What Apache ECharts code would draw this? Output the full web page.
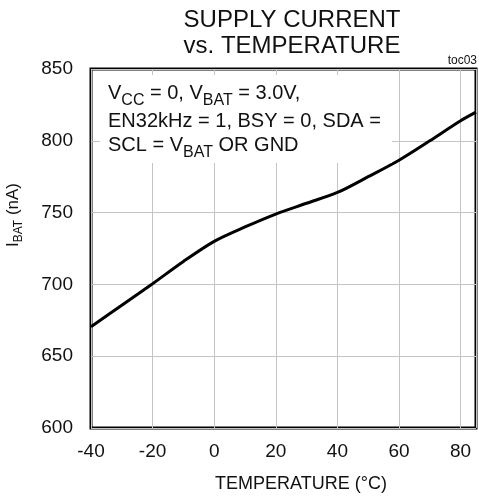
<!DOCTYPE html>
<html>
<head>
<meta charset="utf-8">
<script src="https://cdn.jsdelivr.net/npm/echarts@6/dist/echarts.min.js"></script>
<style>
  html, body { margin: 0; padding: 0; background: #fff; }
  #chart { width: 479px; height: 499px; }
</style>
</head>
<body>
<div id="chart"></div>
<script>
// temperature (°C) and supply current I_BAT (nA)
const temps = [-40, -30, -20, -10, 0, 10, 20, 30, 40, 50, 60, 70, 80, 85];
const ibat = [670.5, 685.5, 700.5, 716, 730, 740, 749, 756.5, 764, 775, 786.5, 800, 814, 820];
const xTicks = [-40, -20, 0, 20, 40, 60, 80];
const yTicks = [600, 650, 700, 750, 800, 850];

const font = '"Liberation Sans", Arial, Helvetica, sans-serif';
const chart = echarts.init(document.getElementById('chart'));

const main = { fontSize: 20, fontFamily: font, fill: '#111', verticalAlign: 'top' };
const sub = { fontSize: 16, fontFamily: font, fill: '#111', padding: [10, 0, 0, 0], verticalAlign: 'bottom' };

chart.setOption({
  animation: false,
  grid: {
    left: 91, right: 2, top: 69, bottom: 71,
    show: true, borderColor: '#000', borderWidth: 3, backgroundColor: 'transparent'
  },
  xAxis: {
    type: 'value',
    min: xTicks[0], max: 85, interval: 20,
    axisLine: { show: false },
    axisTick: { show: false },
    axisLabel: {
      margin: 14, fontSize: 19, color: '#111', fontFamily: font,
      formatter: v => (xTicks.indexOf(v) >= 0 ? String(v) : '')
    },
    splitLine: { lineStyle: { color: '#c4c4c4', width: 1 } }
  },
  yAxis: {
    type: 'value',
    min: yTicks[0], max: yTicks[yTicks.length - 1], interval: 50,
    axisLine: { show: false },
    axisTick: { show: false },
    axisLabel: { margin: 18, fontSize: 19, color: '#111', fontFamily: font },
    splitLine: { lineStyle: { color: '#c4c4c4', width: 1 } }
  },
  series: [{
    type: 'line',
    data: temps.map((t, i) => [t, ibat[i]]),
    smooth: 0.3,
    showSymbol: false,
    lineStyle: { color: '#000', width: 3 },
    z: 3
  }],
  graphic: [
    { type: 'text', x: 292, y: 20, style: { text: 'SUPPLY CURRENT', fontSize: 24, fontFamily: font, fill: '#111', textAlign: 'center', textVerticalAlign: 'middle' } },
    { type: 'text', x: 292, y: 46, style: { text: 'vs. TEMPERATURE', fontSize: 24, fontFamily: font, fill: '#111', textAlign: 'center', textVerticalAlign: 'middle' } },
    { type: 'text', x: 477, y: 61, style: { text: 'toc03', fontSize: 12, fontFamily: font, fill: '#111', textAlign: 'right', textVerticalAlign: 'middle' } },
    { type: 'text', x: 301, y: 484, style: { text: 'TEMPERATURE (°C)', fontSize: 18, fontFamily: font, fill: '#111', textAlign: 'center', textVerticalAlign: 'middle' } },
    {
      type: 'text', x: 15, y: 215, rotation: Math.PI / 2,
      style: {
        text: '{m|I}{s|BAT}{m| (nA)}',
        textAlign: 'center', textVerticalAlign: 'middle',
        rich: {
          m: { fontSize: 17, fontFamily: font, fill: '#111', verticalAlign: 'top' },
          s: { fontSize: 12, fontFamily: font, fill: '#111', padding: [8, 0, 0, 0], verticalAlign: 'bottom' }
        }
      }
    },
    { type: 'rect', z: 5, shape: { x: 100, y: 75, width: 292, height: 88 }, style: { fill: '#fff' } },
    {
      type: 'text', z: 6, x: 108, y: 83,
      style: { text: '{m|V}{s|CC}{m| = 0, V}{s|BAT}{m| = 3.0V,}', rich: { m: main, s: sub } }
    },
    {
      type: 'text', z: 6, x: 108, y: 111,
      style: { text: 'EN32kHz = 1, BSY = 0, SDA =', fontSize: 20, fontFamily: font, fill: '#111' }
    },
    {
      type: 'text', z: 6, x: 108, y: 135,
      style: { text: '{m|SCL = V}{s|BAT}{m| OR GND}', rich: { m: main, s: sub } }
    }
  ]
});
</script>
</body>
</html>
